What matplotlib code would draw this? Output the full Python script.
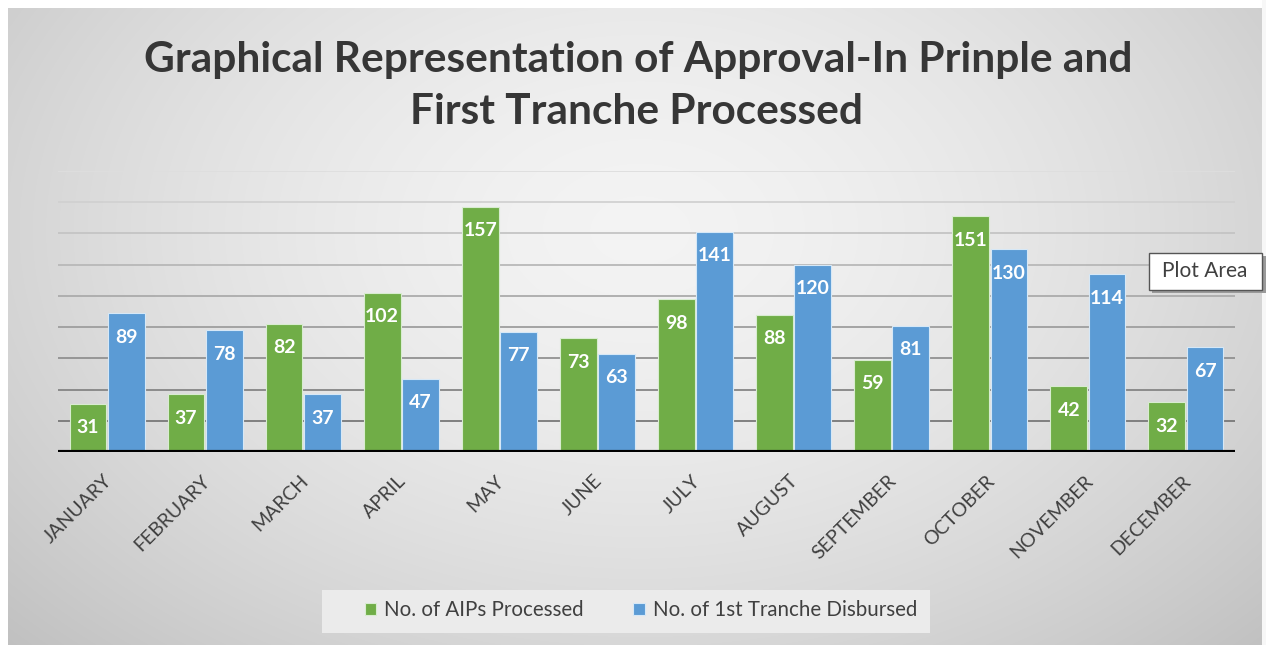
import numpy as np
import matplotlib
matplotlib.use("Agg")
import matplotlib.pyplot as plt
from matplotlib.patches import Rectangle

months = ["JANUARY", "FEBRUARY", "MARCH", "APRIL", "MAY", "JUNE", "JULY",
          "AUGUST", "SEPTEMBER", "OCTOBER", "NOVEMBER", "DECEMBER"]
aips = [31, 37, 82, 102, 157, 73, 98, 88, 59, 151, 42, 32]
tranche = [89, 78, 37, 47, 77, 63, 141, 120, 81, 130, 114, 67]
series_names = ["No. of AIPs Processed", "No. of 1st Tranche Disbursed"]
title_lines = ["Graphical Representation of Approval-In Prinple and",
               "First Tranche Processed"]

GREEN = "#70AD47"
BLUE = "#5B9BD5"
FONT = ["Lato", "DejaVu Sans"]

W, H = 1266, 645
fig = plt.figure(figsize=(W / 100, H / 100), dpi=100)

# background gradient
bg = fig.add_axes([0, 0, 1, 1], zorder=-10)
yy, xx = np.mgrid[0:H, 0:W]
d = np.sqrt(((xx - 640) / 760.0) ** 2 + ((yy - 230) / 520.0) ** 2)
v = 0.955 - 0.16 * np.clip(d, 0, 1.2) ** 1.6
img = np.dstack([v, v, v])
img[:, :8] = 1.0
img[:8, :] = 1.0
img[:, 1262:] = 0.97
bg.imshow(img, aspect="auto", extent=[0, W, H, 0])
bg.set_axis_off()

ax = fig.add_axes([58 / W, 1 - 452 / H, (1235 - 58) / W, (452 - 171) / H])
ax.set_facecolor("none")
x = np.arange(len(months))
bw = 0.375
off = 0.195
b1 = ax.bar(x - off, aips, bw, color=GREEN, edgecolor="#d8ecd0", linewidth=0.8, zorder=3,
            label=series_names[0])
b2 = ax.bar(x + off, tranche, bw, color=BLUE, edgecolor="#d6e8f7", linewidth=0.8, zorder=3,
            label=series_names[1])

for bars, vals in ((b1, aips), (b2, tranche)):
    for r, val in zip(bars, vals):
        ax.annotate(str(val), (r.get_x() + r.get_width() / 2, r.get_height()),
                    xytext=(0, -24), textcoords="offset pixels", ha="center", va="center",
                    color="white", fontsize=14, fontweight="bold", family=FONT, zorder=4)

ax.set_xlim(-0.5, len(months) - 0.5)
ax.set_ylim(0, 180)
ax.set_yticks(np.arange(20, 181, 20))
for yv in np.arange(20, 181, 20):
    shade = 0.42 + 0.45 * (yv / 180)
    ax.axhline(yv, color=(shade, shade, shade), linewidth=1.3, zorder=1)
ax.axhline(0, color="black", linewidth=3, zorder=5)
ax.tick_params(axis="y", left=False, labelleft=False)
ax.tick_params(axis="x", bottom=False, pad=11)
ax.set_xticks(x - 0.04)
ax.set_xticklabels(months, rotation=45, ha="right", rotation_mode="anchor",
                   fontsize=14, color="#404040", family=FONT)
for s in ax.spines.values():
    s.set_visible(False)

fig.text(638 / W, 1 - 60 / H, title_lines[0], ha="center", va="center", fontsize=30.5,
         fontweight="bold", color="#363636", family=FONT)
fig.text(636 / W, 1 - 112 / H, title_lines[1], ha="center", va="center", fontsize=30.5,
         fontweight="bold", color="#363636", family=FONT)

# legend
lbox = Rectangle((322 / W, 1 - 633 / H), (930 - 322) / W, (633 - 590) / H,
                 transform=fig.transFigure, facecolor="#ebebeb", edgecolor="none", zorder=1)
fig.patches.append(lbox)
leg = fig.legend(handles=[b1, b2], labels=series_names, loc="center",
                 bbox_to_anchor=(641 / W, 1 - 610 / H), ncol=2, frameon=False,
                 handlelength=0.55, handleheight=0.55, handletextpad=0.4,
                 columnspacing=2.4, prop={"family": FONT, "size": 14.8})
for t in leg.get_texts():
    t.set_color("#404040")

# "Plot Area" tooltip
shadow = Rectangle((1152 / W, 1 - 293 / H), (1264 - 1150) / W, (291 - 254) / H,
                   transform=fig.transFigure, facecolor="#9a9a9a", edgecolor="none", zorder=6)
fig.patches.append(shadow)
tip = Rectangle((1149 / W, 1 - 290 / H), (1262 - 1149) / W, (290 - 253) / H,
                transform=fig.transFigure, facecolor="white", edgecolor="#555555",
                linewidth=1, zorder=7)
fig.patches.append(tip)
fig.text(1205 / W, 1 - 271 / H, "Plot Area", ha="center", va="center", fontsize=15,
         color="#404040", family=FONT, zorder=8)

fig.savefig("out.png", dpi=100)
